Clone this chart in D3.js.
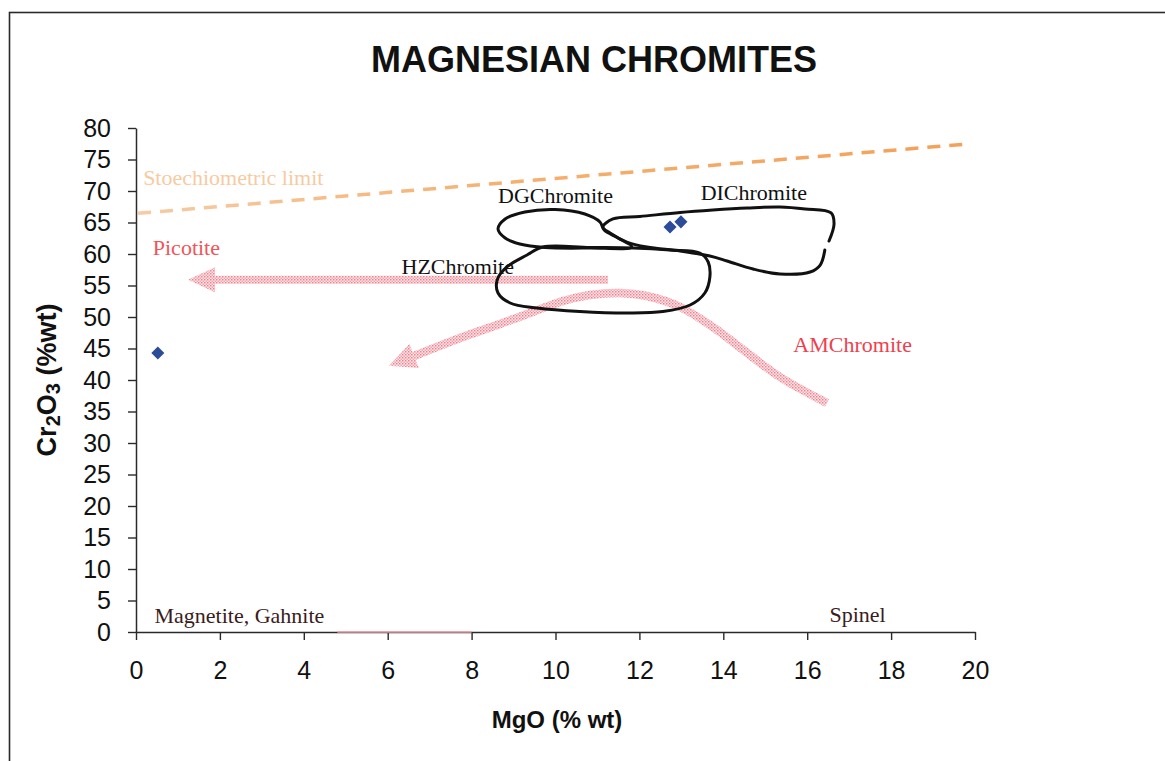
<!DOCTYPE html>
<html>
<head>
<meta charset="utf-8">
<script src="https://cdn.jsdelivr.net/npm/d3@7"></script>
<style>
  html, body { margin: 0; padding: 0; background: #fff; }
  svg { display: block; }
</style>
</head>
<body>
<svg id="chart" width="1165" height="761"></svg>
<script>
// Axis tick values
const xTickValues = [0, 2, 4, 6, 8, 10, 12, 14, 16, 18, 20];
const yTickValues = [0, 5, 10, 15, 20, 25, 30, 35, 40, 45, 50, 55, 60, 65, 70, 75, 80];

// Analysed grains (MgO %wt, Cr2O3 %wt)
const samplePoints = [
  { mgo: 0.52, cr: 44.3 },
  { mgo: 12.73, cr: 64.3 },
  { mgo: 12.99, cr: 65.1 }
];

// Stoichiometric limit (dashed)
const stoichLimit = [
  { mgo: 0.05, cr: 66.45 },
  { mgo: 19.8, cr: 77.45 }
];

// Chromite fields (outline vertices)
const dgField = [
  { mgo: 8.63, cr: 63.97 }, { mgo: 8.80, cr: 65.56 }, { mgo: 9.27, cr: 66.67 },
  { mgo: 9.99, cr: 67.06 }, { mgo: 10.70, cr: 66.35 }, { mgo: 11.06, cr: 65.08 },
  { mgo: 11.16, cr: 63.81 }, { mgo: 11.49, cr: 62.54 }, { mgo: 11.82, cr: 61.11 },
  { mgo: 10.82, cr: 60.95 }, { mgo: 9.75, cr: 61.03 }, { mgo: 9.15, cr: 61.59 },
  { mgo: 8.80, cr: 62.54 }
];

// DI field is drawn as an open outline (small break on its right side)
const diField = [
  { mgo: 16.42, cr: 60.63 }, { mgo: 16.31, cr: 58.25 }, { mgo: 16.07, cr: 57.14 },
  { mgo: 15.35, cr: 56.83 }, { mgo: 14.71, cr: 57.62 }, { mgo: 14.09, cr: 58.89 },
  { mgo: 13.68, cr: 59.68 }, { mgo: 12.97, cr: 60.48 }, { mgo: 12.18, cr: 61.11 },
  { mgo: 11.70, cr: 61.90 }, { mgo: 11.30, cr: 63.33 }, { mgo: 11.13, cr: 64.29 },
  { mgo: 11.37, cr: 65.56 }, { mgo: 12.01, cr: 65.95 }, { mgo: 12.97, cr: 66.59 },
  { mgo: 13.75, cr: 66.98 }, { mgo: 14.57, cr: 67.30 }, { mgo: 15.35, cr: 67.46 },
  { mgo: 15.95, cr: 67.14 }, { mgo: 16.57, cr: 66.51 }, { mgo: 16.64, cr: 64.76 },
  { mgo: 16.52, cr: 62.06 }
];

const hzField = [
  { mgo: 9.70, cr: 61.11 }, { mgo: 9.32, cr: 59.84 }, { mgo: 8.84, cr: 57.94 },
  { mgo: 8.61, cr: 55.87 }, { mgo: 8.63, cr: 53.81 }, { mgo: 8.92, cr: 52.22 },
  { mgo: 9.56, cr: 51.43 }, { mgo: 10.58, cr: 50.87 }, { mgo: 11.78, cr: 50.63 },
  { mgo: 12.56, cr: 50.87 }, { mgo: 13.21, cr: 51.90 }, { mgo: 13.56, cr: 53.81 },
  { mgo: 13.68, cr: 56.35 }, { mgo: 13.64, cr: 58.73 }, { mgo: 13.44, cr: 60.16 },
  { mgo: 12.73, cr: 60.63 }, { mgo: 11.85, cr: 60.95 }, { mgo: 10.82, cr: 61.03 }
];

// Trend arrows (tail first, head last)
const picotiteTrend = [
  { mgo: 11.25, cr: 55.9 },
  { mgo: 1.24, cr: 55.9 }
];
const amTrend = [
  { mgo: 16.47, cr: 36.35 }, { mgo: 15.35, cr: 40.48 }, { mgo: 14.57, cr: 44.29 },
  { mgo: 13.75, cr: 48.41 }, { mgo: 12.97, cr: 51.59 }, { mgo: 12.18, cr: 53.33 },
  { mgo: 11.54, cr: 53.81 }, { mgo: 10.82, cr: 53.49 }, { mgo: 10.18, cr: 52.54 },
  { mgo: 9.39, cr: 50.63 }, { mgo: 8.61, cr: 48.73 }, { mgo: 7.79, cr: 46.83 },
  { mgo: 6.63, cr: 43.81 }
];

// Faint marked stretch on the MgO axis
const axisMark = [4.8, 8.0];

// Annotations (anchored at the text's left baseline)
const fieldLabels = [
  { text: "Stoechiometric limit", mgo: 0.17, cr: 70.95, color: "#f7cba2" },
  { text: "DGChromite", mgo: 8.63, cr: 68.1, color: "#111" },
  { text: "DIChromite", mgo: 13.46, cr: 68.5, color: "#111" },
  { text: "HZChromite", mgo: 6.33, cr: 56.9, color: "#111" },
  { text: "Picotite", mgo: 0.40, cr: 59.8, color: "#f0555a" },
  { text: "AMChromite", mgo: 15.67, cr: 44.5, color: "#f0404e" },
  { text: "Magnetite, Gahnite", mgo: 0.44, cr: 1.5, color: "#3a1c1c" },
  { text: "Spinel", mgo: 16.53, cr: 1.6, color: "#3a1c1c" }
];

const svg = d3.select("#chart");
const W = 1165, H = 761;

svg.append("rect").attr("width", W).attr("height", H).attr("fill", "#fff");

// Outer frame
svg.append("rect")
  .attr("x", 9.5).attr("y", 12.5)
  .attr("width", 1200).attr("height", 800)
  .attr("fill", "none").attr("stroke", "#2a2a2a").attr("stroke-width", 1.6);

const x = d3.scaleLinear().domain([0, 20]).range([136, 975]);
const y = d3.scaleLinear().domain([0, 80]).range([632, 128]);

const defs = svg.append("defs");
// Fine stipple used by the trend arrows
const pat = defs.append("pattern")
  .attr("id", "dots").attr("patternUnits", "userSpaceOnUse")
  .attr("width", 3).attr("height", 3);
pat.append("rect").attr("width", 3).attr("height", 3).attr("fill", "#fde9eb");
pat.append("rect").attr("x", 0).attr("y", 0).attr("width", 1.5).attr("height", 1.5).attr("fill", "#f17f8c");
pat.append("rect").attr("x", 1.5).attr("y", 1.5).attr("width", 1.5).attr("height", 1.5).attr("fill", "#f4a3ad");

const grad = defs.append("linearGradient")
  .attr("id", "limitGrad").attr("gradientUnits", "userSpaceOnUse")
  .attr("x1", x(stoichLimit[0].mgo)).attr("x2", x(stoichLimit[1].mgo))
  .attr("y1", 0).attr("y2", 0);
grad.append("stop").attr("offset", "0%").attr("stop-color", "#f7cba4");
grad.append("stop").attr("offset", "45%").attr("stop-color", "#f5b070");
grad.append("stop").attr("offset", "100%").attr("stop-color", "#f4a058");

// Title
svg.append("text")
  .attr("x", 594).attr("y", 72)
  .attr("text-anchor", "middle")
  .style("font-family", "'Liberation Sans', Arial, sans-serif")
  .style("font-weight", "bold").style("font-size", "36px").attr("fill", "#111")
  .text("MAGNESIAN CHROMITES");

// Axes
const axisFont = "'Liberation Sans', Arial, sans-serif";
const gx = svg.append("g").attr("transform", `translate(0,${y(0)})`)
  .call(d3.axisBottom(x).tickValues(xTickValues).tickSize(8).tickPadding(21).tickSizeOuter(0).tickFormat(d3.format("d")));
const gy = svg.append("g").attr("transform", `translate(${x(0)},0)`)
  .call(d3.axisLeft(y).tickValues(yTickValues).tickSize(8).tickPadding(17).tickSizeOuter(0).tickFormat(d3.format("d")));
[gx, gy].forEach(g => {
  g.select(".domain").attr("stroke", "#2a2a2a").attr("stroke-width", 1.5);
  g.selectAll(".tick line").attr("stroke", "#2a2a2a").attr("stroke-width", 1.4);
  g.selectAll(".tick text").attr("fill", "#111")
    .style("font-family", axisFont).style("font-size", "25px");
});

svg.append("line")
  .attr("x1", x(axisMark[0])).attr("x2", x(axisMark[1]))
  .attr("y1", y(0)).attr("y2", y(0))
  .attr("stroke", "#ef9aa3").attr("stroke-width", 1.5);

// Axis titles
svg.append("text")
  .attr("x", 557).attr("y", 728)
  .attr("text-anchor", "middle")
  .style("font-family", axisFont).style("font-weight", "bold").style("font-size", "24px")
  .attr("fill", "#111")
  .text("MgO (% wt)");

const yt = svg.append("text")
  .attr("transform", "translate(56,380) rotate(-90)")
  .attr("text-anchor", "middle")
  .style("font-family", axisFont).style("font-weight", "bold").style("font-size", "27px")
  .attr("fill", "#111");
yt.append("tspan").text("Cr");
yt.append("tspan").attr("dy", 4).style("font-size", "20px").text("2");
yt.append("tspan").attr("dy", -4).text("O");
yt.append("tspan").attr("dy", 4).style("font-size", "20px").text("3");
yt.append("tspan").attr("dy", -4).text(" (%wt)");

// Stoichiometric limit
svg.append("path")
  .datum(stoichLimit)
  .attr("d", d3.line().x(d => x(d.mgo)).y(d => y(d.cr)))
  .attr("fill", "none").attr("stroke", "url(#limitGrad)")
  .attr("stroke-width", 3.5).attr("stroke-dasharray", "13,9");

// Arrow helpers
function headPoints(base, dir, headLen, headHalf) {
  const n = [-dir[1], dir[0]];
  const tip = [base[0] + dir[0] * headLen, base[1] + dir[1] * headLen];
  return [
    [base[0] + n[0] * headHalf, base[1] + n[1] * headHalf],
    tip,
    [base[0] - n[0] * headHalf, base[1] - n[1] * headHalf]
  ];
}

// Straight trend arrow (Picotite)
(function () {
  const t = [x(picotiteTrend[0].mgo), y(picotiteTrend[0].cr)];
  const p = [x(picotiteTrend[1].mgo), y(picotiteTrend[1].cr)];
  const len = Math.hypot(p[0] - t[0], p[1] - t[1]);
  const d = [(p[0] - t[0]) / len, (p[1] - t[1]) / len];
  const n = [-d[1], d[0]];
  const headLen = 27, hw = 4, hh = 12.5;
  const b = [p[0] - d[0] * headLen, p[1] - d[1] * headLen];
  const pts = [
    [t[0] + n[0] * hw, t[1] + n[1] * hw],
    [b[0] + n[0] * hw, b[1] + n[1] * hw],
    [b[0] + n[0] * hh, b[1] + n[1] * hh],
    p,
    [b[0] - n[0] * hh, b[1] - n[1] * hh],
    [b[0] - n[0] * hw, b[1] - n[1] * hw],
    [t[0] - n[0] * hw, t[1] - n[1] * hw]
  ];
  svg.append("path").attr("d", "M" + pts.join("L") + "Z").attr("fill", "url(#dots)");
})();

// Curved trend arrow (AMChromite)
(function () {
  svg.append("path")
    .datum(amTrend)
    .attr("d", d3.line().x(d => x(d.mgo)).y(d => y(d.cr)).curve(d3.curveCatmullRom))
    .attr("fill", "none").attr("stroke", "url(#dots)").attr("stroke-width", 8.5);
  const a = amTrend[amTrend.length - 2], b = amTrend[amTrend.length - 1];
  const pa = [x(a.mgo), y(a.cr)], pb = [x(b.mgo), y(b.cr)];
  const len = Math.hypot(pb[0] - pa[0], pb[1] - pa[1]);
  const dir = [(pb[0] - pa[0]) / len, (pb[1] - pa[1]) / len];
  const pts = headPoints(pb, dir, 27, 13);
  svg.append("path").attr("d", "M" + pts.join("L") + "Z").attr("fill", "url(#dots)");
})();

// Chromite fields
const outline = d3.line().x(d => x(d.mgo)).y(d => y(d.cr));
svg.append("path").datum(dgField)
  .attr("d", outline.curve(d3.curveCatmullRomClosed))
  .attr("fill", "none").attr("stroke", "#111").attr("stroke-width", 3).attr("stroke-linejoin", "round");
svg.append("path").datum(hzField)
  .attr("d", outline.curve(d3.curveCatmullRomClosed))
  .attr("fill", "none").attr("stroke", "#111").attr("stroke-width", 3).attr("stroke-linejoin", "round");
svg.append("path").datum(diField)
  .attr("d", outline.curve(d3.curveCatmullRom))
  .attr("fill", "none").attr("stroke", "#111").attr("stroke-width", 3)
  .attr("stroke-linejoin", "round").attr("stroke-linecap", "round");

// Labels
svg.append("g").selectAll("text")
  .data(fieldLabels).join("text")
  .attr("x", d => x(d.mgo)).attr("y", d => y(d.cr))
  .style("font-family", "'Liberation Serif', 'Times New Roman', serif")
  .style("font-size", "22px")
  .attr("fill", d => d.color)
  .text(d => d.text);

// Sample points
svg.append("g").selectAll("path")
  .data(samplePoints).join("path")
  .attr("transform", d => `translate(${x(d.mgo)},${y(d.cr)}) rotate(45)`)
  .attr("d", d3.symbol(d3.symbolSquare, 85))
  .attr("fill", "#2c4b98");
</script>
</body>
</html>
